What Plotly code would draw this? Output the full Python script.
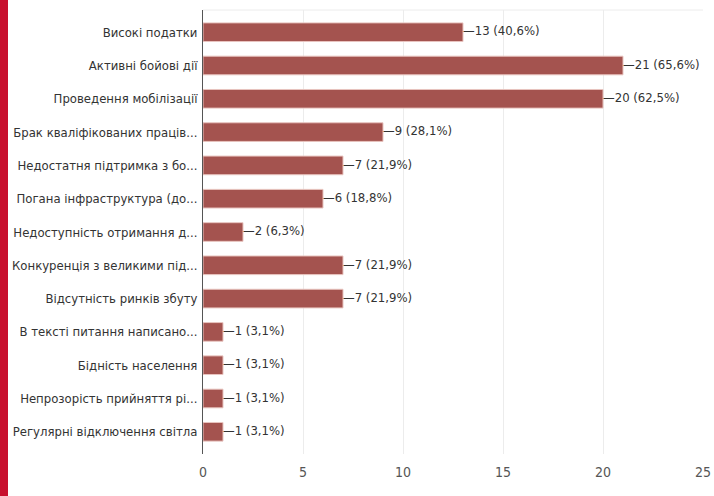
import plotly.graph_objects as go

categories = [
    "Високі податки",
    "Активні бойові дії",
    "Проведення мобілізації",
    "Брак кваліфікованих праців...",
    "Недостатня підтримка з бо...",
    "Погана інфраструктура (до...",
    "Недоступність отримання д...",
    "Конкуренція з великими під...",
    "Відсутність ринків збуту",
    "В тексті питання написано...",
    "Бідність населення",
    "Непрозорість прийняття рі...",
    "Регулярні відключення світла",
]
counts = [13, 21, 20, 9, 7, 6, 2, 7, 7, 1, 1, 1, 1]
percents = ["40,6%", "65,6%", "62,5%", "28,1%", "21,9%", "18,8%", "6,3%",
            "21,9%", "21,9%", "3,1%", "3,1%", "3,1%", "3,1%"]
tick_vals = [0, 5, 10, 15, 20, 25]

FONT = "Liberation Sans Narrow, DejaVu Sans Condensed, Arial Narrow, sans-serif"
labels = [f"\u2014{c} ({p})" for c, p in zip(counts, percents)]

fig = go.Figure()
fig.add_trace(go.Bar(
    y=categories, x=counts, orientation="h",
    marker=dict(color="#a4534f", line=dict(color="#e8c4bf", width=1)),
    width=0.56, hoverinfo="skip",
))
fig.add_trace(go.Scatter(
    y=categories, x=counts, mode="text", text=labels,
    textposition="middle right",
    textfont=dict(family=FONT, size=13, color="#333333"),
    hoverinfo="skip", cliponaxis=False,
))

fig.update_layout(
    width=714, height=496,
    margin=dict(l=203, r=11, t=10, b=42, autoexpand=False),
    paper_bgcolor="white", plot_bgcolor="white",
    showlegend=False,
    font=dict(family=FONT, size=13, color="#333333"),
    xaxis=dict(range=[0, 25], tickvals=tick_vals, showgrid=True,
               gridcolor="#ececec", zeroline=False, showline=False,
               ticks="", tickfont=dict(size=14, color="#555555"),
               ticklabelstandoff=8, fixedrange=True, automargin=False),
    yaxis=dict(autorange="reversed", categoryorder="array",
               categoryarray=categories, showline=True, linecolor="#555555",
               linewidth=1, ticks="", tickfont=dict(size=13, color="#333333"),
               ticklabelstandoff=2, showgrid=False, fixedrange=True,
               automargin=False),
    shapes=[
        dict(type="rect", xref="paper", yref="paper", x0=-203/500, x1=-195/500,
             y0=-42/444, y1=1+10/444, fillcolor="#c8102e", line=dict(width=0),
             layer="above"),
        dict(type="line", xref="paper", yref="paper", x0=0, x1=1, y0=1, y1=1,
             line=dict(color="#ececec", width=1)),
    ],
)

fig.write_html(
    "out.html",
    config={"displayModeBar": False},
    post_script="document.body.style.margin='0';document.body.style.padding='0';document.body.style.overflow='hidden';",
)
